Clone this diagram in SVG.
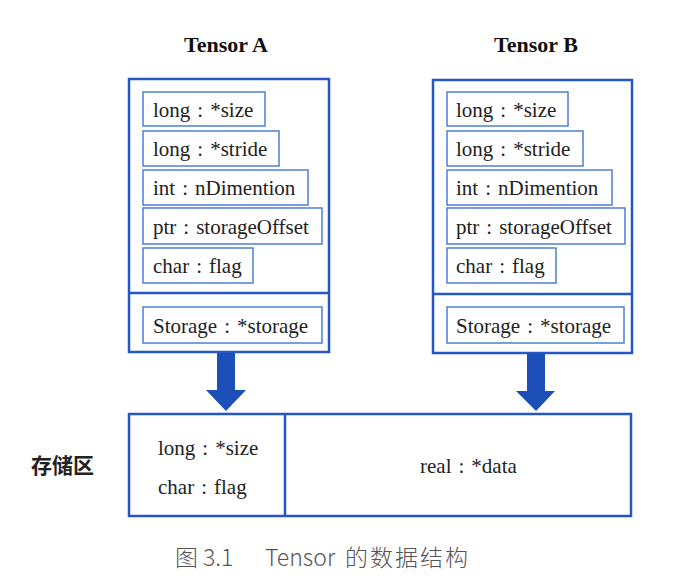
<svg xmlns="http://www.w3.org/2000/svg" width="698" height="580" viewBox="0 0 698 580">
<style>
.outer{fill:#fff;stroke:#2457c5;stroke-width:2.5}
.inner{fill:#fff;stroke:#4d7fd6;stroke-width:1.5}
.div{stroke:#2457c5;stroke-width:2.5}
.t{font-family:"Liberation Serif",serif;font-size:21px;fill:#222}
.title{font-family:"Liberation Serif",serif;font-size:22px;font-weight:bold;fill:#111;text-anchor:middle}
.cjk{font-family:"Noto Sans CJK SC",sans-serif;font-size:21px;font-weight:bold;fill:#222}
.cap{font-family:"Noto Sans CJK SC",sans-serif;font-size:23px;font-weight:300;fill:#555}
.arrow{fill:#1c4fb8}
</style>
<rect width="698" height="580" fill="#fff"/>
<g id="tensorA">
<text class="title" x="226" y="52">Tensor A</text>
<rect class="outer" x="129" y="79" width="200" height="273"/>
<line class="div" x1="129" y1="293" x2="329" y2="293"/>
<rect class="inner" x="143" y="92" width="122" height="34"/>
<text class="t" x="153" y="117">long<tspan dx="7">:</tspan><tspan dx="7">*size</tspan></text>
<rect class="inner" x="143" y="131" width="136" height="35"/>
<text class="t" x="153" y="156">long<tspan dx="7">:</tspan><tspan dx="7">*stride</tspan></text>
<rect class="inner" x="143" y="170" width="165" height="35"/>
<text class="t" x="153" y="195">int<tspan dx="7">:</tspan><tspan dx="7">nDimention</tspan></text>
<rect class="inner" x="143" y="208" width="179" height="36"/>
<text class="t" x="153" y="234">ptr<tspan dx="7">:</tspan><tspan dx="7">storageOffset</tspan></text>
<rect class="inner" x="143" y="248" width="110" height="35"/>
<text class="t" x="153" y="273">char<tspan dx="7">:</tspan><tspan dx="7">flag</tspan></text>
<rect class="inner" x="143" y="307" width="179" height="36"/>
<text class="t" x="153" y="333">Storage<tspan dx="7">:</tspan><tspan dx="7">*storage</tspan></text>
</g>
<g id="tensorB">
<text class="title" x="536" y="52">Tensor B</text>
<rect class="outer" x="433" y="80" width="199" height="273"/>
<line class="div" x1="433" y1="294" x2="632" y2="294"/>
<rect class="inner" x="447" y="92" width="121" height="34"/>
<text class="t" x="456" y="117">long<tspan dx="7">:</tspan><tspan dx="7">*size</tspan></text>
<rect class="inner" x="447" y="131" width="136" height="35"/>
<text class="t" x="456" y="156">long<tspan dx="7">:</tspan><tspan dx="7">*stride</tspan></text>
<rect class="inner" x="447" y="170" width="165" height="35"/>
<text class="t" x="456" y="195">int<tspan dx="7">:</tspan><tspan dx="7">nDimention</tspan></text>
<rect class="inner" x="447" y="208" width="178" height="36"/>
<text class="t" x="456" y="234">ptr<tspan dx="7">:</tspan><tspan dx="7">storageOffset</tspan></text>
<rect class="inner" x="447" y="248" width="109" height="35"/>
<text class="t" x="456" y="273">char<tspan dx="7">:</tspan><tspan dx="7">flag</tspan></text>
<rect class="inner" x="447" y="307" width="177" height="36"/>
<text class="t" x="456" y="333">Storage<tspan dx="7">:</tspan><tspan dx="7">*storage</tspan></text>
</g>
<g id="connectors">
<polygon class="arrow" points="217,353 235,353 235,390 246,390 226,411 206,390 217,390"/>
<polygon class="arrow" points="527,354 545,354 545,391 555,391 536,411 516,391 527,391"/>
</g>
<g id="storage">
<text class="cjk" x="31" y="473">存储区</text>
<rect class="outer" x="129" y="414" width="502" height="102"/>
<line class="div" x1="285" y1="414" x2="285" y2="516"/>
<text class="t" x="158" y="455">long<tspan dx="7">:</tspan><tspan dx="7">*size</tspan></text>
<text class="t" x="158" y="494">char<tspan dx="7">:</tspan><tspan dx="7">flag</tspan></text>
<text class="t" x="420" y="473">real<tspan dx="7">:</tspan><tspan dx="7">*data</tspan></text>
</g>
<text class="cap" y="566"><tspan x="175">图</tspan><tspan x="203">3.1</tspan><tspan x="265">Tensor</tspan><tspan x="345" letter-spacing="2">的数据结构</tspan></text>
</svg>
